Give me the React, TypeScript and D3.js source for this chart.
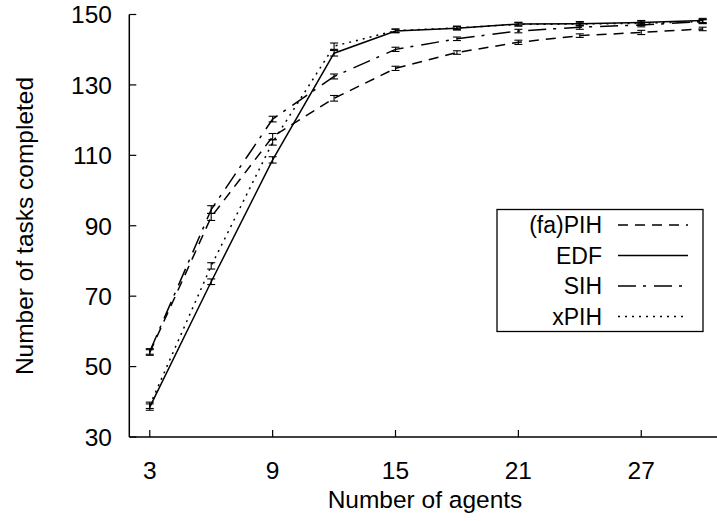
import React from "react";
import * as d3 from "d3";

const agents = [3, 6, 9, 12, 15, 18, 21, 24, 27, 30];
const faPIH = [54.0, 92.5, 115.3, 126.2, 134.7, 139.2, 142.1, 144.0, 144.9, 145.9];
const EDF = [38.5, 74.1, 108.7, 139.0, 145.3, 146.1, 147.3, 147.4, 147.7, 148.3];
const SIH = [54.3, 94.6, 120.3, 132.4, 140.1, 143.1, 145.3, 146.4, 147.0, 148.0];
const xPIH = [39.0, 78.6, 113.7, 141.0, 145.4, 146.2, 147.2, 147.3, 147.5, 148.0];
const faPIHErr = [0.8, 1.0, 0.9, 0.8, 0.6, 0.5, 0.6, 0.5, 0.6, 0.5];
const EDFErr = [0.9, 0.8, 0.9, 0.8, 0.5, 0.5, 0.5, 0.6, 0.6, 0.6];
const SIHErr = [0.8, 1.1, 0.8, 0.7, 0.6, 0.5, 0.5, 0.6, 0.5, 0.5];
const xPIHErr = [0.9, 0.9, 0.8, 0.9, 0.5, 0.5, 0.5, 0.5, 0.6, 0.6];
const seriesNames = ["(fa)PIH", "EDF", "SIH", "xPIH"];
const xTicks = [3, 9, 15, 21, 27];
const yTicks = [30, 50, 70, 90, 110, 130, 150];
const xLabel = "Number of agents";
const yLabel = "Number of tasks completed";

const dashes = ["10,7", "", "18,7,3,8", "2,5"];

export default function App() {
  const W = 717, H = 521;
  const x = d3.scaleLinear().domain([2, 30.7]).range([129.3, 717]);
  const y = d3.scaleLinear().domain([30, 150]).range([437, 14.5]);
  const values = [faPIH, EDF, SIH, xPIH];
  const errs = [faPIHErr, EDFErr, SIHErr, xPIHErr];
  const line = d3
    .line<number>()
    .x((_, i) => x(agents[i]))
    .y((d) => y(d));
  const font = "'Liberation Sans', Arial, Helvetica, sans-serif";
  const fs = 24.5;
  const lfs = 23;
  return (
    <svg
      width={W}
      height={H}
      style={{ position: "absolute", left: 0, top: 0, background: "#fff" }}
      fontFamily={font}
    >
      <rect width={W} height={H} fill="#fff" />
      {/* axes */}
      <line x1={x(2)} x2={x(2)} y1={y(30)} y2={y(150)} stroke="#000" strokeWidth={1.5} />
      <line x1={x(2)} x2={W} y1={y(30)} y2={y(30)} stroke="#000" strokeWidth={1.5} />
      {yTicks.map((t) => (
        <g key={"y" + t}>
          <line x1={x(2)} x2={x(2) + 7} y1={y(t)} y2={y(t)} stroke="#000" strokeWidth={1.2} />
          <text x={112} y={y(t)} dy="0.36em" textAnchor="end" fontSize={fs}>
            {t}
          </text>
        </g>
      ))}
      {xTicks.map((t) => (
        <g key={"x" + t}>
          <line x1={x(t)} x2={x(t)} y1={y(30)} y2={y(30) - 7} stroke="#000" strokeWidth={1.2} />
          <text x={x(t)} y={470} dy="0.36em" textAnchor="middle" fontSize={fs}>
            {t}
          </text>
        </g>
      ))}
      <text x={425} y={499} dy="0.36em" textAnchor="middle" fontSize={fs}>
        {xLabel}
      </text>
      <text
        transform={`translate(24,226) rotate(-90)`}
        dy="0.36em"
        textAnchor="middle"
        fontSize={fs}
      >
        {yLabel}
      </text>
      {/* series */}
      {values.map((vals, si) => (
        <g key={"s" + si}>
          <path
            d={line(vals) || ""}
            fill="none"
            stroke="#000"
            strokeWidth={1.5}
            strokeDasharray={dashes[si] || undefined}
          />
          {vals.map((v, i) => {
            const e = errs[si][i];
            const cx = x(agents[i]);
            return (
              <g key={i} stroke="#000" strokeWidth={1.1}>
                <line x1={cx} x2={cx} y1={y(v - e)} y2={y(v + e)} />
                <line x1={cx - 4} x2={cx + 4} y1={y(v - e)} y2={y(v - e)} />
                <line x1={cx - 4} x2={cx + 4} y1={y(v + e)} y2={y(v + e)} />
              </g>
            );
          })}
        </g>
      ))}
      {/* legend */}
      <rect x={497} y={209.5} width={206} height={122} fill="#fff" stroke="#000" strokeWidth={1.3} />
      {seriesNames.map((n, i) => {
        const cy = 225 + i * 30.5;
        return (
          <g key={"l" + n}>
            <text x={602} y={cy} dy="0.36em" textAnchor="end" fontSize={lfs}>
              {n}
            </text>
            <line
              x1={618}
              x2={688}
              y1={cy}
              y2={cy}
              stroke="#000"
              strokeWidth={1.5}
              strokeDasharray={dashes[i] || undefined}
            />
          </g>
        );
      })}
    </svg>
  );
}
